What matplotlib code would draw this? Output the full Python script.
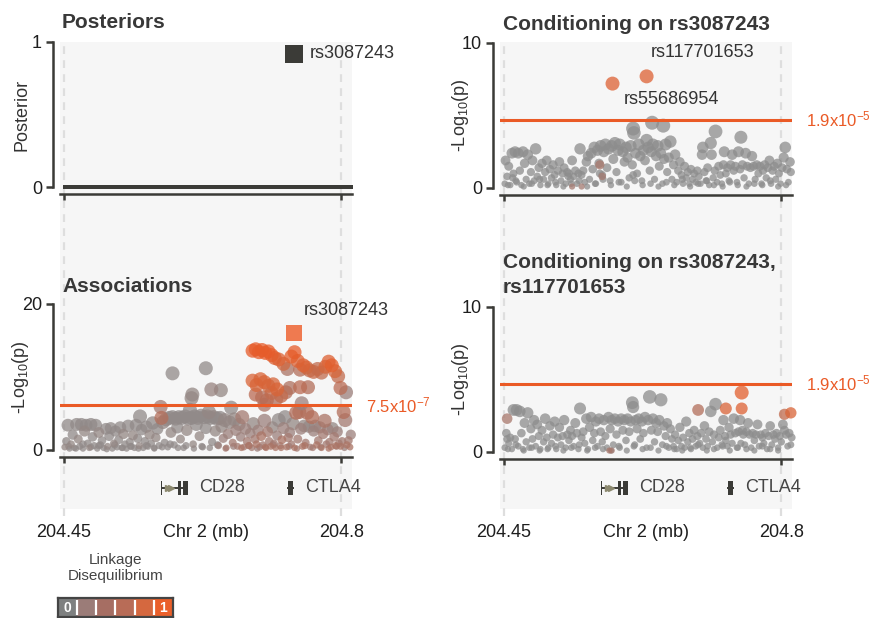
import numpy as np
import matplotlib
matplotlib.use('Agg')
import matplotlib.pyplot as plt
from matplotlib.colors import LinearSegmentedColormap
from matplotlib.patches import Rectangle

plt.rcParams['font.family'] = ['Liberation Sans', 'DejaVu Sans']
plt.rcParams['mathtext.fontset'] = 'custom'
plt.rcParams['mathtext.rm'] = 'Liberation Sans'
plt.rcParams['mathtext.it'] = 'Liberation Sans:italic'
plt.rcParams['mathtext.bf'] = 'Liberation Sans:bold'
plt.rcParams['mathtext.default'] = 'regular'

# ---------------------------------------------------------------- data
axis_ticks = [204.45, 204.8]
tick_labels = ['204.45', '204.8']

lead_snp = 'rs3087243'
lead_pos = 204.7406
lead_posterior = 0.92
lead_logp = 16.0

assoc_threshold_p = 7.5e-7
cond_threshold_p = 1.9e-5

# associations: SNPs above threshold
assoc_top_pos = [
    204.587, 204.629, 204.612, 204.611, 204.636, 204.648, 204.688, 204.692, 204.696, 204.700,
    204.704, 204.708, 204.712, 204.716, 204.721, 204.727, 204.732, 204.737, 204.741, 204.745,
    204.748, 204.752, 204.756, 204.760, 204.765, 204.770, 204.775, 204.780, 204.784, 204.788,
    204.792, 204.796, 204.799, 204.806, 204.688, 204.693, 204.698, 204.703, 204.708, 204.714,
    204.719, 204.692, 204.700, 204.706, 204.712, 204.718, 204.724, 204.730, 204.735, 204.748,
    204.758, 204.750, 204.703]
assoc_top_logp = [
    10.5, 11.2, 7.6, 7.1, 8.3, 8.2, 13.6, 13.8, 13.4, 13.7,
    13.3, 13.5, 13.0, 12.6, 12.4, 11.8, 11.1, 12.8, 13.4, 12.2,
    11.0, 11.6, 11.3, 10.9, 10.7, 11.1, 10.6, 11.4, 12.1, 11.6,
    10.8, 10.1, 8.5, 7.9, 9.5, 8.9, 9.7, 9.3, 8.8, 9.0,
    8.3, 7.6, 7.2, 6.8, 7.8, 7.0, 7.4, 7.9, 8.5, 8.6,
    8.6, 6.4, 6.2]
assoc_top_ld = [
    0.05, 0.05, 0.1, 0.1, 0.15, 0.1, 0.95, 0.95, 0.95, 0.95,
    0.95, 0.95, 0.92, 0.85, 0.85, 0.7, 0.4, 0.9, 0.95, 0.85,
    0.5, 0.85, 0.7, 0.6, 0.65, 0.6, 0.6, 0.75, 0.85, 0.9,
    0.75, 0.6, 0.55, 0.2, 0.8, 0.75, 0.8, 0.8, 0.7, 0.75,
    0.8, 0.55, 0.5, 0.55, 0.6, 0.5, 0.6, 0.5, 0.45, 0.55,
    0.5, 0.2, 0.4]

# associations: SNPs below threshold
assoc_low_pos = [
    204.451, 204.453, 204.455, 204.457, 204.459, 204.461, 204.463, 204.466, 204.468, 204.470,
    204.472, 204.474, 204.476, 204.478, 204.480, 204.482, 204.484, 204.486, 204.488, 204.490,
    204.492, 204.494, 204.496, 204.498, 204.500, 204.503, 204.505, 204.507, 204.509, 204.511,
    204.513, 204.515, 204.517, 204.519, 204.521, 204.523, 204.525, 204.527, 204.529, 204.531,
    204.533, 204.535, 204.537, 204.539, 204.541, 204.543, 204.545, 204.546, 204.548, 204.550,
    204.552, 204.554, 204.556, 204.558, 204.560, 204.562, 204.564, 204.566, 204.568, 204.570,
    204.572, 204.573, 204.575, 204.577, 204.579, 204.581, 204.583, 204.585, 204.587, 204.589,
    204.591, 204.593, 204.595, 204.597, 204.599, 204.601, 204.603, 204.605, 204.607, 204.609,
    204.611, 204.613, 204.615, 204.617, 204.619, 204.621, 204.623, 204.625, 204.627, 204.629,
    204.631, 204.633, 204.635, 204.637, 204.639, 204.641, 204.643, 204.645, 204.647, 204.649,
    204.651, 204.653, 204.655, 204.657, 204.659, 204.661, 204.663, 204.665, 204.667, 204.669,
    204.671, 204.673, 204.675, 204.677, 204.679, 204.681, 204.683, 204.685, 204.687, 204.689,
    204.691, 204.693, 204.695, 204.697, 204.699, 204.701, 204.703, 204.705, 204.707, 204.709,
    204.711, 204.713, 204.715, 204.717, 204.719, 204.721, 204.723, 204.725, 204.727, 204.729,
    204.731, 204.733, 204.735, 204.737, 204.739, 204.741, 204.743, 204.745, 204.747, 204.749,
    204.751, 204.753, 204.755, 204.757, 204.759, 204.761, 204.763, 204.765, 204.767, 204.769,
    204.771, 204.773, 204.775, 204.777, 204.779, 204.781, 204.783, 204.785, 204.787, 204.789,
    204.791, 204.793, 204.795, 204.797, 204.799, 204.801, 204.803, 204.805, 204.807, 204.809,
    204.811, 204.812, 204.456, 204.465, 204.474, 204.484, 204.494, 204.504, 204.514, 204.524,
    204.534, 204.544, 204.554, 204.564, 204.574, 204.584, 204.594, 204.604, 204.614, 204.624,
    204.634, 204.644, 204.654, 204.664, 204.674, 204.684, 204.694, 204.704, 204.714, 204.724,
    204.734, 204.744, 204.754, 204.764, 204.774, 204.784, 204.794, 204.804]
assoc_low_logp = [
    0.4, 1.2, 3.4, 0.2, 0.8, 2.1, 0.3, 3.5, 1.5, 0.5,
    3.5, 0.2, 2.6, 3.4, 0.9, 0.3, 3.5, 1.8, 0.6, 3.4,
    0.2, 2.4, 0.7, 1.3, 0.3, 2.9, 0.5, 1.9, 3.0, 0.2,
    0.9, 2.6, 0.4, 1.4, 3.1, 0.3, 2.2, 0.8, 0.2, 3.3,
    1.1, 0.5, 2.0, 0.3, 3.4, 1.6, 0.6, 4.6, 2.8, 0.3,
    1.2, 3.2, 0.5, 2.1, 0.9, 3.7, 0.3, 1.7, 2.9, 0.6,
    5.9, 4.4, 3.8, 1.0, 4.2, 0.4, 4.4, 2.4, 4.5, 0.7,
    4.3, 3.1, 4.5, 1.5, 4.4, 0.3, 4.6, 2.7, 4.3, 5.5,
    4.4, 0.8, 4.6, 3.5, 4.4, 1.9, 4.7, 0.4, 4.5, 3.0,
    4.6, 5.2, 4.4, 1.1, 4.5, 2.6, 4.3, 0.6, 4.4, 3.2,
    1.6, 4.1, 0.3, 2.2, 3.8, 5.8, 1.0, 4.2, 2.7, 0.5,
    3.5, 1.8, 4.5, 0.4, 2.9, 1.2, 0.6, 2.3, 0.3, 3.6,
    1.5, 0.8, 2.7, 0.4, 1.9, 0.7, 4.0, 0.3, 2.5, 1.2,
    0.5, 3.1, 0.9, 0.3, 2.0, 4.1, 0.6, 1.4, 3.0, 4.5,
    0.4, 1.7, 2.4, 0.8, 3.6, 0.3, 5.1, 1.5, 5.2, 2.9,
    0.5, 3.3, 1.0, 5.1, 3.2, 0.4, 4.5, 2.6, 3.3, 0.7,
    1.3, 3.1, 0.3, 2.2, 4.0, 0.8, 2.8, 1.1, 0.4, 3.0,
    1.8, 0.6, 2.5, 0.9, 0.5, 1.2, 5.2, 4.1, 0.7, 1.3,
    0.4, 2.1, 0.5, 0.2, 0.8, 0.4, 0.6, 0.1, 0.7, 0.3,
    0.5, 0.2, 0.6, 0.2, 0.4, 0.8, 0.3, 0.6, 0.2, 0.5,
    0.3, 0.7, 0.2, 0.5, 0.3, 0.6, 0.2, 0.4, 0.7, 0.3,
    0.5, 0.2, 0.6, 0.3, 0.4, 0.2, 0.5, 0.3]
assoc_low_ld = [
    0.1, 0.05, 0.05, 0.05, 0.1, 0.05, 0.05, 0.05, 0.1, 0.05,
    0.05, 0.05, 0.1, 0.05, 0.05, 0.1, 0.05, 0.05, 0.05, 0.05,
    0.05, 0.1, 0.05, 0.05, 0.05, 0.05, 0.1, 0.05, 0.05, 0.05,
    0.1, 0.05, 0.05, 0.05, 0.05, 0.05, 0.1, 0.05, 0.05, 0.05,
    0.05, 0.05, 0.1, 0.05, 0.05, 0.05, 0.1, 0.05, 0.05, 0.05,
    0.05, 0.05, 0.05, 0.1, 0.05, 0.05, 0.05, 0.1, 0.05, 0.05,
    0.3, 0.5, 0.1, 0.05, 0.05, 0.05, 0.05, 0.1, 0.05, 0.05,
    0.05, 0.05, 0.05, 0.1, 0.05, 0.05, 0.05, 0.1, 0.05, 0.05,
    0.05, 0.1, 0.05, 0.05, 0.05, 0.1, 0.05, 0.05, 0.05, 0.05,
    0.05, 0.1, 0.05, 0.05, 0.05, 0.1, 0.05, 0.2, 0.05, 0.1,
    0.2, 0.1, 0.3, 0.2, 0.1, 0.05, 0.3, 0.1, 0.2, 0.3,
    0.1, 0.2, 0.3, 0.3, 0.2, 0.3, 0.4, 0.2, 0.3, 0.1,
    0.3, 0.4, 0.2, 0.3, 0.4, 0.3, 0.2, 0.4, 0.3, 0.3,
    0.4, 0.1, 0.3, 0.4, 0.2, 0.05, 0.3, 0.4, 0.2, 0.05,
    0.4, 0.3, 0.2, 0.3, 0.1, 0.4, 0.5, 0.3, 0.45, 0.2,
    0.4, 0.1, 0.3, 0.5, 0.1, 0.3, 0.5, 0.2, 0.05, 0.4,
    0.3, 0.2, 0.4, 0.3, 0.4, 0.3, 0.2, 0.3, 0.4, 0.1,
    0.3, 0.4, 0.2, 0.3, 0.4, 0.3, 0.5, 0.3, 0.4, 0.3,
    0.4, 0.2, 0.05, 0.05, 0.05, 0.05, 0.05, 0.05, 0.05, 0.05,
    0.05, 0.05, 0.05, 0.05, 0.05, 0.05, 0.05, 0.05, 0.05, 0.05,
    0.05, 0.05, 0.3, 0.2, 0.4, 0.3, 0.2, 0.4, 0.3, 0.4,
    0.2, 0.3, 0.4, 0.3, 0.2, 0.4, 0.3, 0.2]

# conditioning on rs3087243 (grey background SNPs)
cond1_pos = [
    204.451, 204.452, 204.454, 204.456, 204.458, 204.460, 204.462, 204.464, 204.466, 204.468,
    204.470, 204.472, 204.474, 204.476, 204.478, 204.480, 204.482, 204.484, 204.486, 204.488,
    204.490, 204.492, 204.494, 204.496, 204.498, 204.500, 204.502, 204.504, 204.506, 204.508,
    204.510, 204.512, 204.514, 204.516, 204.518, 204.520, 204.522, 204.524, 204.526, 204.528,
    204.530, 204.532, 204.534, 204.536, 204.538, 204.540, 204.542, 204.544, 204.546, 204.548,
    204.550, 204.552, 204.554, 204.556, 204.558, 204.560, 204.562, 204.564, 204.566, 204.568,
    204.570, 204.572, 204.574, 204.576, 204.578, 204.580, 204.582, 204.584, 204.586, 204.588,
    204.590, 204.592, 204.594, 204.596, 204.598, 204.600, 204.602, 204.604, 204.606, 204.608,
    204.610, 204.612, 204.613, 204.614, 204.616, 204.618, 204.620, 204.622, 204.624, 204.626,
    204.628, 204.630, 204.632, 204.634, 204.636, 204.637, 204.638, 204.640, 204.642, 204.644,
    204.646, 204.648, 204.650, 204.651, 204.652, 204.654, 204.656, 204.658, 204.660, 204.662,
    204.664, 204.666, 204.668, 204.670, 204.672, 204.674, 204.676, 204.678, 204.680, 204.682,
    204.684, 204.686, 204.688, 204.690, 204.692, 204.694, 204.696, 204.698, 204.700, 204.701,
    204.703, 204.705, 204.707, 204.709, 204.711, 204.712, 204.714, 204.716, 204.717, 204.719,
    204.721, 204.723, 204.725, 204.727, 204.728, 204.730, 204.732, 204.734, 204.736, 204.738,
    204.740, 204.742, 204.744, 204.746, 204.748, 204.749, 204.751, 204.753, 204.755, 204.757,
    204.759, 204.761, 204.763, 204.765, 204.767, 204.769, 204.771, 204.773, 204.775, 204.777,
    204.779, 204.781, 204.783, 204.785, 204.787, 204.789, 204.791, 204.793, 204.795, 204.797,
    204.799, 204.801, 204.803, 204.805, 204.807, 204.809, 204.811, 204.812, 204.461, 204.531,
    204.455, 204.465, 204.475, 204.485, 204.495, 204.505, 204.515, 204.525, 204.535, 204.545,
    204.555, 204.565, 204.575, 204.585, 204.595, 204.605, 204.615, 204.625, 204.635, 204.645,
    204.655, 204.665, 204.675, 204.685, 204.695, 204.706, 204.715, 204.726, 204.735, 204.745,
    204.756, 204.766, 204.776, 204.786, 204.796, 204.806, 204.571, 204.613]
cond1_logp = [
    0.3, 1.9, 0.8, 1.5, 0.2, 2.4, 1.0, 2.5, 0.4, 2.4,
    1.2, 0.2, 2.5, 1.7, 0.6, 2.3, 0.3, 1.1, 1.9, 0.5,
    2.7, 0.8, 1.4, 0.2, 1.7, 0.6, 1.1, 1.9, 0.3, 1.3,
    0.7, 1.6, 0.9, 0.2, 1.2, 1.8, 0.5, 1.0, 1.4, 0.3,
    1.1, 1.0, 0.6, 1.9, 0.8, 1.2, 0.3, 1.0, 2.7, 0.9,
    1.2, 0.4, 1.8, 2.2, 0.6, 2.4, 1.3, 2.8, 0.3, 2.6,
    1.7, 2.9, 0.9, 2.5, 3.0, 1.4, 2.7, 0.5, 2.9, 2.0,
    3.1, 1.1, 2.6, 3.0, 0.4, 2.5, 1.8, 2.8, 2.1, 0.7,
    2.9, 1.6, 4.1, 3.8, 2.4, 1.0, 3.0, 2.2, 0.5, 2.6,
    1.9, 3.3, 2.8, 1.2, 2.5, 4.5, 3.0, 0.6, 2.2, 2.9,
    1.5, 2.4, 0.3, 4.3, 2.0, 3.0, 1.1, 2.1, 3.2, 0.6,
    1.6, 2.3, 0.4, 1.2, 1.8, 0.9, 0.3, 1.5, 0.7, 1.1,
    0.3, 1.3, 0.6, 1.0, 0.4, 1.2, 0.8, 0.3, 2.3, 2.8,
    1.1, 0.5, 1.4, 0.2, 3.1, 2.3, 0.7, 1.2, 3.9, 0.4,
    1.5, 0.9, 0.3, 1.6, 2.5, 1.0, 1.4, 0.5, 1.6, 2.3,
    1.2, 1.5, 0.4, 2.5, 1.3, 3.5, 1.6, 0.7, 2.4, 1.5,
    0.3, 1.4, 2.2, 1.5, 0.6, 1.6, 1.0, 1.5, 0.3, 1.2,
    1.6, 0.7, 1.4, 1.9, 0.3, 1.2, 1.5, 0.6, 1.7, 1.0,
    0.3, 1.4, 2.1, 2.8, 1.3, 0.4, 1.8, 1.1, 0.7, 0.8,
    0.2, 0.5, 0.1, 0.3, 0.6, 0.2, 0.4, 0.1, 0.3, 0.5,
    0.1, 0.3, 0.6, 0.2, 0.4, 0.1, 0.5, 0.2, 0.3, 0.1,
    0.4, 0.2, 0.6, 0.1, 0.3, 0.5, 0.2, 0.1, 0.4, 0.2,
    0.1, 0.3, 0.2, 0.5, 0.1, 0.2, 1.0, 0.9]
# conditioning on rs3087243 (SNPs in LD with the conditioned set)
cond1_hl_pos = [204.587, 204.630, 204.536, 204.548, 204.574, 204.571]
cond1_hl_logp = [7.2, 7.7, 0.1, 0.1, 0.8, 1.6]
cond1_hl_ld = [0.85, 0.85, 0.3, 0.3, 0.3, 0.35]
cond1_labels = ['rs117701653', 'rs55686954']

# conditioning on rs3087243, rs117701653 (grey background SNPs)
cond2_pos = [
    204.451, 204.453, 204.454, 204.456, 204.458, 204.460, 204.462, 204.464, 204.466, 204.468,
    204.470, 204.472, 204.474, 204.476, 204.478, 204.480, 204.482, 204.484, 204.486, 204.488,
    204.490, 204.492, 204.494, 204.496, 204.498, 204.500, 204.502, 204.504, 204.506, 204.508,
    204.510, 204.512, 204.514, 204.516, 204.518, 204.520, 204.522, 204.524, 204.526, 204.528,
    204.530, 204.532, 204.534, 204.536, 204.538, 204.540, 204.542, 204.544, 204.546, 204.548,
    204.550, 204.552, 204.554, 204.556, 204.558, 204.560, 204.562, 204.564, 204.566, 204.568,
    204.570, 204.572, 204.574, 204.576, 204.578, 204.580, 204.582, 204.584, 204.586, 204.588,
    204.590, 204.592, 204.594, 204.596, 204.598, 204.600, 204.602, 204.604, 204.606, 204.608,
    204.610, 204.612, 204.613, 204.614, 204.616, 204.618, 204.620, 204.622, 204.624, 204.626,
    204.628, 204.630, 204.632, 204.634, 204.636, 204.638, 204.640, 204.642, 204.644, 204.646,
    204.648, 204.650, 204.652, 204.654, 204.656, 204.658, 204.660, 204.662, 204.664, 204.666,
    204.668, 204.670, 204.672, 204.674, 204.676, 204.678, 204.680, 204.682, 204.684, 204.686,
    204.688, 204.690, 204.692, 204.694, 204.695, 204.697, 204.699, 204.701, 204.703, 204.705,
    204.707, 204.709, 204.711, 204.713, 204.715, 204.717, 204.719, 204.721, 204.723, 204.725,
    204.727, 204.729, 204.730, 204.732, 204.734, 204.736, 204.738, 204.740, 204.742, 204.744,
    204.746, 204.748, 204.749, 204.751, 204.752, 204.754, 204.756, 204.758, 204.760, 204.762,
    204.764, 204.766, 204.768, 204.770, 204.772, 204.774, 204.776, 204.778, 204.780, 204.782,
    204.784, 204.786, 204.788, 204.790, 204.792, 204.794, 204.796, 204.798, 204.800, 204.802,
    204.804, 204.806, 204.808, 204.810, 204.812, 204.813, 204.455, 204.465, 204.475, 204.485,
    204.495, 204.505, 204.515, 204.525, 204.535, 204.545, 204.555, 204.565, 204.575, 204.585,
    204.595, 204.605, 204.615, 204.625, 204.635, 204.645, 204.655, 204.665, 204.675, 204.685,
    204.706, 204.715, 204.726, 204.735, 204.745, 204.756, 204.766, 204.776, 204.786, 204.796]
cond2_logp = [
    0.3, 1.3, 0.9, 0.6, 1.0, 0.2, 2.9, 0.9, 2.9, 0.4,
    2.8, 1.3, 0.2, 2.0, 0.7, 2.7, 0.3, 1.6, 0.9, 2.2,
    0.4, 1.9, 1.1, 0.2, 1.5, 0.7, 2.3, 1.0, 0.3, 1.8,
    0.6, 1.2, 2.1, 0.2, 1.0, 1.7, 0.5, 1.1, 2.2, 0.3,
    1.2, 0.8, 1.5, 1.1, 0.4, 2.0, 1.3, 0.2, 3.0, 1.0,
    1.4, 0.6, 2.3, 0.2, 1.7, 2.4, 0.8, 1.3, 2.1, 0.4,
    2.3, 1.4, 0.7, 2.2, 1.1, 0.3, 2.4, 1.6, 2.2, 0.5,
    2.3, 1.2, 2.1, 0.3, 2.3, 1.5, 2.2, 0.8, 2.3, 1.4,
    2.1, 3.4, 3.1, 0.4, 2.2, 1.6, 2.3, 0.9, 2.1, 1.3,
    2.4, 0.3, 2.2, 3.8, 1.5, 2.3, 0.7, 2.0, 1.4, 2.2,
    3.6, 0.5, 1.8, 1.1, 2.0, 0.3, 1.6, 0.9, 0.4, 1.2,
    0.2, 0.8, 1.7, 0.4, 1.0, 0.3, 2.1, 0.7, 1.3, 0.2,
    0.9, 1.5, 0.4, 1.1, 0.5, 0.6, 1.3, 0.3, 1.8, 0.9,
    0.4, 1.4, 2.8, 0.7, 1.2, 3.3, 0.3, 1.0, 1.5, 0.5,
    2.2, 1.1, 0.8, 0.4, 1.7, 1.2, 0.6, 2.3, 1.3, 0.3,
    1.4, 2.2, 0.6, 1.5, 1.2, 0.5, 1.4, 2.0, 1.2, 0.3,
    1.3, 0.8, 1.2, 1.9, 0.4, 1.2, 1.0, 0.6, 1.3, 0.2,
    1.1, 1.8, 0.5, 1.2, 0.9, 1.3, 0.3, 1.1, 0.7, 1.9,
    1.5, 1.2, 0.4, 1.3, 0.5, 1.0, 0.2, 0.5, 0.1, 0.3,
    0.1, 0.2, 0.4, 0.1, 0.3, 0.5, 0.1, 0.3, 0.2, 0.1,
    0.4, 0.1, 0.5, 0.2, 0.3, 0.1, 0.4, 0.2, 0.1, 0.3,
    0.1, 0.2, 0.4, 0.1, 0.3, 0.2, 0.1, 0.4, 0.2, 0.1]
cond2_hl_pos = [204.454, 204.695, 204.730, 204.750, 204.750, 204.804, 204.812, 204.583, 204.586]
cond2_hl_logp = [2.3, 2.9, 3.0, 4.1, 3.0, 2.6, 2.7, 0.1, 0.1]
cond2_hl_ld = [0.35, 0.5, 0.8, 0.9, 0.85, 0.6, 0.8, 0.35, 0.3]

# genes
gene_names = ['CD28', 'CTLA4']
gene_start = [204.5720, 204.7320]
gene_end = [204.6065, 204.7400]
gene_exons = [[(204.5720, 0.0012), (204.5942, 0.0032), (204.6008, 0.0055)],
              [(204.7325, 0.0070)]]
gene_label_pos = [204.6207, 204.7545]

# LD legend
ld_legend_colors = ['#7e8080', '#9b7c78', '#a66e63', '#b86c57', '#d5683f', '#ea5f2a']

# ---------------------------------------------------------------- style
W, H = 874, 618
DARK = '#3b3b37'
ORANGE = '#ea5a26'
TEXT = '#333333'
XLIM = (204.445, 204.8135)
COLS = [60, 500]

point_cmap = LinearSegmentedColormap.from_list(
    'ld_points', ['#8d8d8d', '#a07d76', '#b36e5a', '#d5663b', '#ea5a26'])

fig = plt.figure(figsize=(W / 100, H / 100), dpi=100)


def add_px_axes(x0, y0, x1, y1):
    return fig.add_axes([x0 / W, 1 - y1 / H, (x1 - x0) / W, (y1 - y0) / H])


def make_panel(cx, y_top, y_bot, ymax, yticks):
    ax = add_px_axes(cx, y_top, cx + 292, y_bot)
    ax.set_facecolor('none')
    ax.set_xlim(XLIM)
    ax.set_ylim(0, ymax)
    ax.spines['top'].set_visible(False)
    ax.spines['right'].set_visible(False)
    for s in ('left', 'bottom'):
        ax.spines[s].set_position(('outward', 5))
        ax.spines[s].set_linewidth(1.8)
        ax.spines[s].set_color(DARK)
    ax.set_yticks(yticks)
    ax.set_yticklabels([str(t) for t in yticks])
    ax.set_xticks(axis_ticks)
    ax.set_xticklabels([])
    ax.tick_params(axis='y', length=5, width=1.8, color=DARK, labelsize=13,
                   pad=3, labelcolor='#1e1e1e')
    ax.tick_params(axis='x', length=4.5, width=1.8, color=DARK)
    return ax


def draw_snps(ax, pos, logp, ld):
    pos = np.asarray(pos)
    logp = np.asarray(logp)
    ld = np.asarray(ld)
    order = np.argsort(ld, kind='stable')
    diam = 6 + 2.0 * np.minimum(logp, 4)
    sizes = (diam / 1.389) ** 2
    ax.scatter(pos[order], logp[order], s=sizes[order], c=ld[order], cmap=point_cmap,
               vmin=0, vmax=1, alpha=0.75, linewidths=0, clip_on=False, zorder=3)


def threshold(ax, p, label_exp):
    thr = -np.log10(p)
    ax.axhline(thr, color=ORANGE, lw=2.2, zorder=4)
    mant = '%.1f' % (p / 10 ** np.floor(np.log10(p)))
    ax.annotate(mant + 'x10$^{' + label_exp + '}$', xy=(1, thr),
                xycoords=('axes fraction', 'data'), xytext=(10, 0),
                textcoords='offset points', va='center', ha='left',
                color=ORANGE, fontsize=12)


def gene_track(cx):
    gx = add_px_axes(cx, 470, cx + 292, 506)
    gx.set_facecolor('none')
    gx.set_xlim(XLIM)
    gx.set_ylim(0, 1)
    gx.axis('off')
    for name, s, e, exons, lx in zip(gene_names, gene_start, gene_end, gene_exons, gene_label_pos):
        gx.plot([s, e], [0.5, 0.5], color=DARK, lw=1.4, solid_capstyle='butt')
        for ex_s, ex_w in exons:
            gx.add_patch(Rectangle((ex_s, 0.3), ex_w, 0.4, color=DARK, lw=0))
        if e - s > 0.02:
            gx.plot([s + 0.009, s + 0.013], [0.5, 0.5], ls='none', marker='>',
                    ms=4.5, color='#8c896f')
        gx.text(lx, 0.5, name, va='center', ha='left', fontsize=13, color='#444444')


# backgrounds with dashed region bounds and x tick labels
for cx in COLS:
    bg = add_px_axes(cx, 42, cx + 292, 509)
    bg.set_facecolor('#f6f6f6')
    bg.set_xlim(XLIM)
    bg.set_ylim(0, 1)
    for s in bg.spines.values():
        s.set_visible(False)
    bg.set_yticks([])
    bg.set_xticks(axis_ticks)
    bg.set_xticklabels(tick_labels, fontsize=13, color='#1e1e1e')
    bg.tick_params(axis='x', length=0, pad=11)
    for t in axis_ticks:
        bg.axvline(t, ymin=-0.015, ymax=1, color='#dedede', lw=1.6,
                   ls=(0, (3.5, 2.8)), zorder=0, clip_on=False)
    bg.annotate('Chr 2 (mb)', xy=(0.5, 0), xycoords='axes fraction', xytext=(0, -11),
                textcoords='offset points', ha='center', va='top', fontsize=13,
                color='#1e1e1e')

# posteriors
ax = make_panel(COLS[0], 42, 187, 1, [0, 1])
all_pos = assoc_top_pos + assoc_low_pos
ax.scatter(all_pos, np.zeros(len(all_pos)), marker='s', s=10.5, color=DARK,
           linewidths=0, clip_on=False, zorder=3)
ax.scatter([lead_pos], [lead_posterior], marker='s', s=169, color=DARK,
           linewidths=0, clip_on=False, zorder=4)
ax.annotate(lead_snp, xy=(lead_pos, lead_posterior), xytext=(11.5, 0),
            textcoords='offset points', va='center', ha='left', fontsize=13, color=TEXT)
ax.set_ylabel('Posterior', fontsize=13, color=TEXT)
ax.yaxis.set_label_coords(-0.1, 0.5)

# associations
ax = make_panel(COLS[0], 304, 450, 20, [0, 20])
draw_snps(ax, assoc_low_pos, assoc_low_logp, assoc_low_ld)
draw_snps(ax, assoc_top_pos, assoc_top_logp, assoc_top_ld)
threshold(ax, assoc_threshold_p, '-7')
ax.scatter([lead_pos], [lead_logp], marker='s', s=117, color='#ef7a50',
           linewidths=0, clip_on=False, zorder=5)
ax.annotate(lead_snp, xy=(lead_pos, lead_logp), xytext=(6.5, 16.5),
            textcoords='offset points', va='center', ha='left', fontsize=13, color=TEXT)
ax.set_ylabel('-Log$_{10}$(p)', fontsize=13, color=TEXT)
ax.yaxis.set_label_coords(-0.1, 0.5)

# conditioning on lead SNP
ax = make_panel(COLS[1], 43, 188, 10, [0, 10])
draw_snps(ax, cond1_pos, cond1_logp, [0.0] * len(cond1_pos))
draw_snps(ax, cond1_hl_pos, cond1_hl_logp, cond1_hl_ld)
threshold(ax, cond_threshold_p, '-5')
ax.annotate(cond1_labels[0], xy=(cond1_hl_pos[1], cond1_hl_logp[1]), xytext=(3, 17),
            textcoords='offset points', va='center', ha='left', fontsize=13, color=TEXT)
ax.annotate(cond1_labels[1], xy=(cond1_hl_pos[0], cond1_hl_logp[0]), xytext=(8, -11.5),
            textcoords='offset points', va='center', ha='left', fontsize=13, color=TEXT)
ax.set_ylabel('-Log$_{10}$(p)', fontsize=13, color=TEXT)
ax.yaxis.set_label_coords(-0.1, 0.5)

# conditioning on both
ax = make_panel(COLS[1], 307, 452, 10, [0, 10])
draw_snps(ax, cond2_pos, cond2_logp, [0.0] * len(cond2_pos))
draw_snps(ax, cond2_hl_pos, cond2_hl_logp, cond2_hl_ld)
threshold(ax, cond_threshold_p, '-5')
ax.set_ylabel('-Log$_{10}$(p)', fontsize=13, color=TEXT)
ax.yaxis.set_label_coords(-0.1, 0.5)

for cx in COLS:
    gene_track(cx)

# titles
fig.text(62 / W, 1 - 22 / H, 'Posteriors', fontsize=15, fontweight='bold', color='#383838', va='center')
fig.text(62 / W, 1 - 287 / H, 'Associations', fontsize=15, fontweight='bold', color='#383838', va='center')
fig.text(503 / W, 1 - 25 / H, 'Conditioning on rs3087243', fontsize=15, fontweight='bold',
         color='#383838', va='center')
fig.text(503 / W, 1 - 253 / H, 'Conditioning on rs3087243,\nrs117701653', fontsize=15,
         fontweight='bold', color='#383838', va='top', linespacing=1.4)

# LD legend
fig.text(116 / W, 1 - 568 / H, 'Linkage\nDisequilibrium', fontsize=11, color='#444444',
         ha='center', va='center')
lg = add_px_axes(58, 598, 173, 617)
lg.bar(range(len(ld_legend_colors)), 1, width=1, align='edge', color=ld_legend_colors, lw=0)
lg.vlines(range(1, len(ld_legend_colors)), 0.1, 0.9, color='white', lw=1.6)
lg.set_xlim(0, len(ld_legend_colors))
lg.set_ylim(0, 1)
lg.set_xticks([])
lg.set_yticks([])
for s in lg.spines.values():
    s.set_color('#444444')
    s.set_linewidth(1.6)
lg.text(0.5, 0.45, '0', color='white', fontweight='bold', fontsize=10, ha='center', va='center')
lg.text(len(ld_legend_colors) - 0.5, 0.45, '1', color='white', fontweight='bold', fontsize=10,
        ha='center', va='center')

fig.savefig('out.png', dpi=100)
